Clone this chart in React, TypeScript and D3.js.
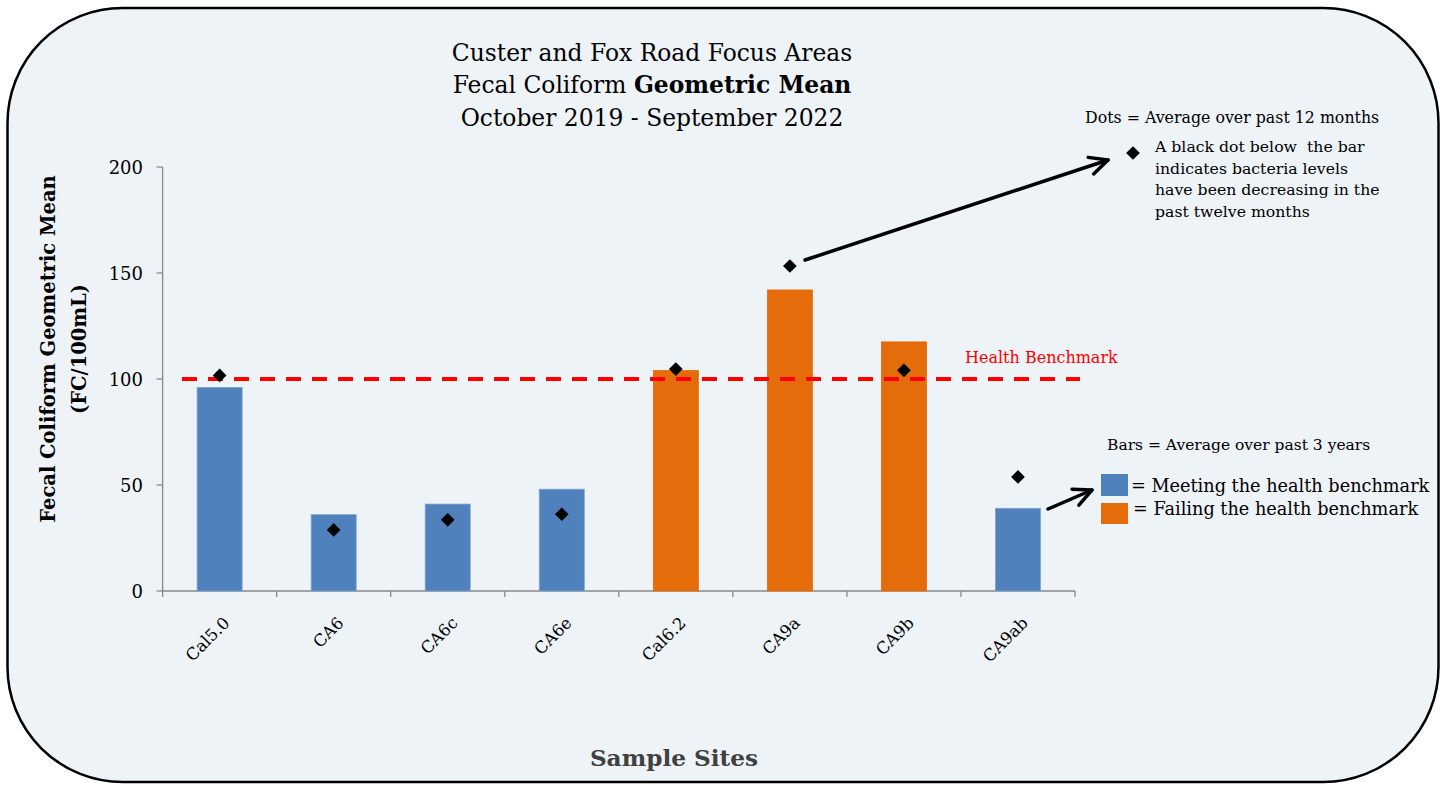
import React from "react";
import * as d3 from "d3";

const categories = ["Cal5.0", "CA6", "CA6c", "CA6e", "Cal6.2", "CA9a", "CA9b", "CA9ab"];
const barValues = [96, 36, 41, 48, 104, 142, 117.5, 39];
const dotValues = [101.7, 28.8, 33.6, 36.2, 104.7, 153.3, 104.1, 53.8];
const yTicks = [0, 50, 100, 150, 200];
const benchmark = 100;
const titleLines = ["Custer and Fox Road Focus Areas", "October 2019 - September 2022"];
const noteLines = [
  "A black dot below  the bar",
  "indicates bacteria levels",
  "have been decreasing in the",
  "past twelve months",
];

const W = 1447;
const H = 785;
const FONT = "'DejaVu Serif', 'Liberation Serif', serif";
const BLUE = "#4F81BD";
const ORANGE = "#E46C0A";

export default function App() {
  const x = d3.scaleBand<string>().domain(categories).range([162.6, 1075]).paddingInner(0.605).paddingOuter(0.3025);
  const y = d3.scaleLinear().domain([0, 200]).range([591, 167]);
  const diamond = d3.symbol().type(d3.symbolDiamond2).size(120)();
  const center = (c: string) => (x(c) as number) + x.bandwidth() / 2;
  const step = x.step();
  const x0 = 162.6;

  const arrow = (x1: number, y1: number, x2: number, y2: number, key: string) => {
    const ang = Math.atan2(y2 - y1, x2 - x1);
    const hl = 20;
    const a1 = ang + Math.PI - 0.45;
    const a2 = ang + Math.PI + 0.45;
    return (
      <g key={key} stroke="#000" strokeWidth={3.5} fill="none" strokeLinecap="round" strokeLinejoin="round">
        <line x1={x1} y1={y1} x2={x2} y2={y2} />
        <polyline
          points={`${x2 + hl * Math.cos(a1)},${y2 + hl * Math.sin(a1)} ${x2},${y2} ${x2 + hl * Math.cos(a2)},${y2 + hl * Math.sin(a2)}`}
        />
      </g>
    );
  };

  return (
    <svg width={W} height={H} style={{ position: "absolute", left: 0, top: 0 }} fontFamily={FONT}>
      <rect x={7.5} y={8} width={1431} height={774} rx={115} ry={115} fill="#EEF3F8" stroke="#000" strokeWidth={2.5} />

      {/* Title */}
      <g textAnchor="middle" fill="#000" fontSize={23.4}>
        <text x={652} y={61}>{titleLines[0]}</text>
        <text x={652} y={93}>
          Fecal Coliform <tspan fontWeight="bold">Geometric Mean</tspan>
        </text>
        <text x={652} y={126}>{titleLines[1]}</text>
      </g>

      {/* Y axis */}
      <line x1={x0} y1={y(200)} x2={x0} y2={y(0)} stroke="#888" strokeWidth={1.3} />
      {yTicks.map((t) => (
        <g key={t}>
          <line x1={x0 - 6} x2={x0} y1={y(t)} y2={y(t)} stroke="#888" strokeWidth={1.3} />
          <text x={143} y={y(t) + 7} textAnchor="end" fontSize={18} fill="#000">
            {t}
          </text>
        </g>
      ))}

      {/* X axis */}
      <line x1={x0} y1={y(0)} x2={1075} y2={y(0)} stroke="#888" strokeWidth={1.3} />
      {d3.range(categories.length + 1).map((i) => (
        <line key={i} x1={x0 + i * step} x2={x0 + i * step} y1={y(0)} y2={y(0) + 6} stroke="#888" strokeWidth={1.3} />
      ))}
      {categories.map((c) => (
        <text
          key={c}
          transform={`translate(${center(c) + 11},${y(0) + 33}) rotate(-45)`}
          textAnchor="end"
          fontSize={16.5}
          fill="#000"
        >
          {c}
        </text>
      ))}

      {/* Bars */}
      {categories.map((c, i) => (
        <rect
          key={c}
          x={x(c)}
          y={y(barValues[i])}
          width={x.bandwidth()}
          height={y(0) - y(barValues[i])}
          fill={barValues[i] > benchmark ? ORANGE : BLUE}
          stroke={barValues[i] > benchmark ? ORANGE : "#7FA3D0"}
          strokeWidth={0.8}
        />
      ))}

      {/* Benchmark */}
      <line
        x1={182}
        x2={1080}
        y1={y(benchmark)}
        y2={y(benchmark)}
        stroke="#FF0000"
        strokeWidth={4}
        strokeDasharray="15 11"
      />
      <text x={965} y={363} fill="#FF0000" fontSize={16}>
        Health Benchmark
      </text>

      {/* Dots */}
      {categories.map((c, i) => (
        <path key={c} d={diamond as string} transform={`translate(${center(c)},${y(dotValues[i])})`} fill="#000" />
      ))}

      {/* Annotations */}
      {arrow(805, 260, 1108, 160, "a1")}
      {arrow(1048, 509, 1092, 490, "a2")}
      <text x={1085} y={123} fontSize={15.8} fill="#000">
        Dots = Average over past 12 months
      </text>
      <path d={diamond as string} transform="translate(1133,153)" fill="#000" />
      {noteLines.map((l, i) => (
        <text key={i} x={1155} y={152 + i * 21.7} fontSize={15.7} fill="#000" style={{ whiteSpace: "pre" }}>
          {l}
        </text>
      ))}

      <text x={1107} y={450} fontSize={15.5} fill="#000">
        Bars = Average over past 3 years
      </text>
      <rect x={1101} y={474} width={27} height={22} fill={BLUE} />
      <text x={1131} y={492} fontSize={17.7} fill="#000">
        = Meeting the health benchmark
      </text>
      <rect x={1101} y={503} width={27} height={21} fill={ORANGE} />
      <text x={1133} y={515} fontSize={17.7} fill="#000">
        = Failing the health benchmark
      </text>

      {/* Axis titles */}
      <g transform="translate(55,349) rotate(-90)" textAnchor="middle" fontWeight="bold" fontSize={19.5} fill="#000">
        <text x={0} y={0}>Fecal Coliform Geometric Mean</text>
        <text x={0} y={31}>(FC/100mL)</text>
      </g>
      <text x={674} y={766} textAnchor="middle" fontWeight="bold" fontSize={23.2} fill="#404040">
        Sample Sites
      </text>
    </svg>
  );
}
